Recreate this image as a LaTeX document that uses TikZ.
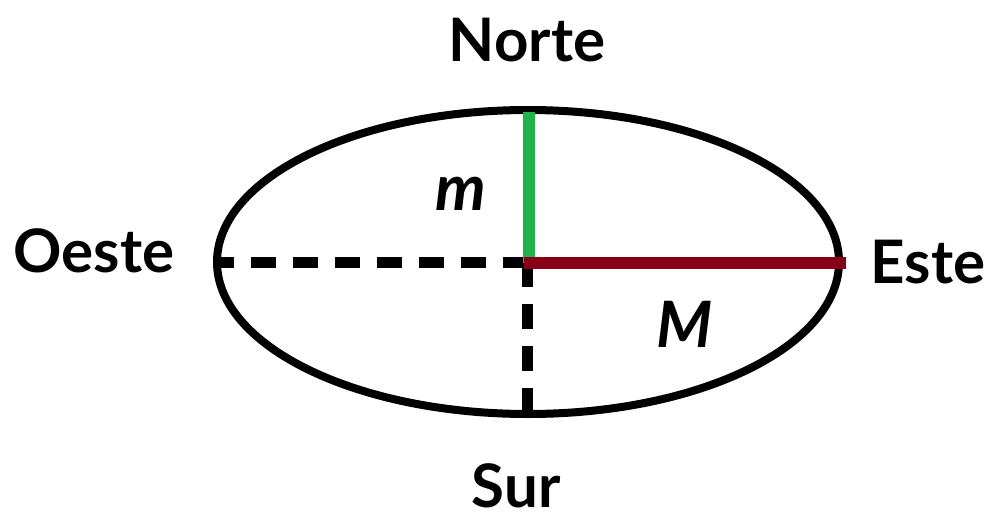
\documentclass[tikz,border=0pt]{standalone}
\usepackage{fontspec}
\setmainfont{Lato}
\definecolor{paintgreen}{HTML}{22B14C}
\definecolor{paintred}{HTML}{880015}
\begin{document}
\begin{tikzpicture}[x=1pt,y=-1pt,
  lbl/.style={font=\fontsize{60}{62}\selectfont\bfseries,inner sep=0pt,anchor=base},
  axlbl/.style={font=\fontsize{64}{66}\selectfont\bfseries\itshape,inner sep=0pt,anchor=base},
  dashline/.style={line width=11pt,dash pattern=on 25pt off 17pt}]
\useasboundingbox (0,0) rectangle (993,519);
\fill[white] (0,0) rectangle (993,519);
% key points
\coordinate (O) at (528,262);
\coordinate (Ntop) at (528.5,112);
\coordinate (Ocen) at (528.5,263);
\coordinate (Rstart) at (524,263);
\coordinate (Eend) at (846,263);
\coordinate (Wend) at (217,262);
\coordinate (Vtop) at (527,262);
\coordinate (Send) at (527,414);
% ellipse
\draw[line width=8pt] (O) ellipse [x radius=311, y radius=152];
% dashed half axes
\draw[dashline] (O) -- (Wend);
\draw[dashline] (Vtop) -- (Send);
% minor semi-axis
\draw[paintgreen,line width=12pt] (Ntop) -- (Ocen);
% major semi-axis
\draw[paintred,line width=12pt] (Rstart) -- (Eend);
% labels
\node[lbl] (norte) at (527,62) {Norte};
\node[lbl] (oeste) at (94,272) {Oeste};
\node[lbl] (este) at (928,283) {Este};
\node[lbl] (sur) at (516,507) {Sur};
\node[axlbl] (mm) at (461,210) {m};
\node[axlbl] (MM) at (685,347) {M};
\end{tikzpicture}
\end{document}
